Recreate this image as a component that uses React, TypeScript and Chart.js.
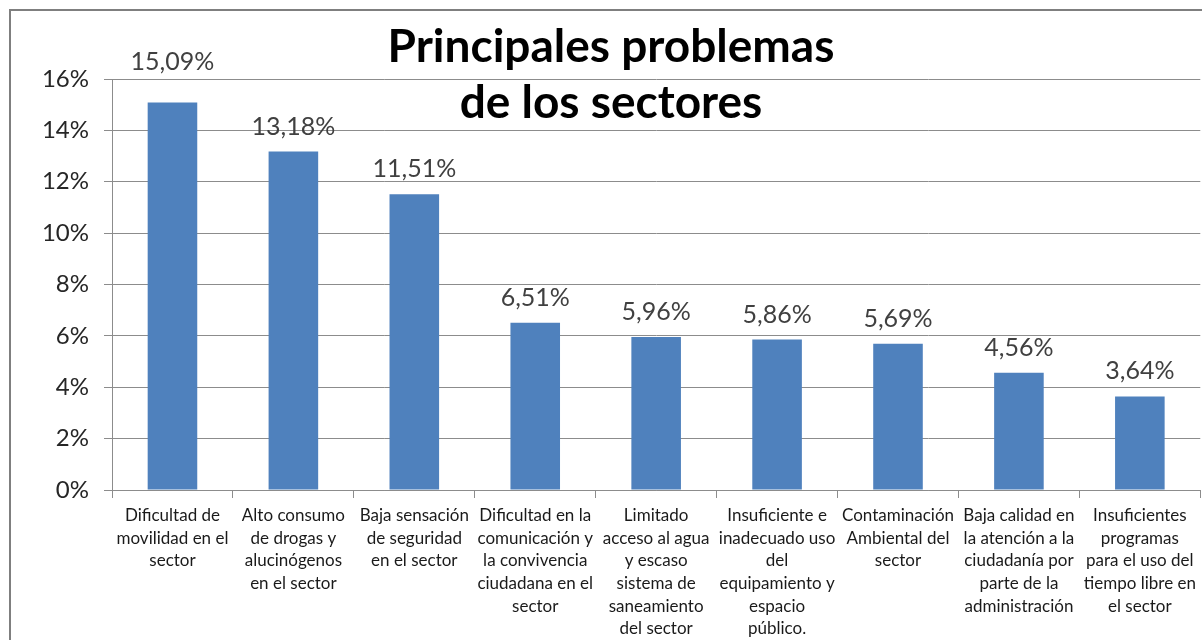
import React, { useEffect, useRef } from "react";
import { Chart, registerables } from "chart.js";

Chart.register(...registerables);

const categories: string[][] = [
  ["Dificultad de", "movilidad en el", "sector"],
  ["Alto consumo", "de drogas y", "alucinógenos", "en el sector"],
  ["Baja sensación", "de seguridad", "en el sector"],
  ["Dificultad en la", "comunicación y", "la convivencia", "ciudadana en el", "sector"],
  ["Limitado", "acceso al agua", "y escaso", "sistema de", "saneamiento", "del sector"],
  ["Insuficiente e", "inadecuado uso", "del", "equipamiento y", "espacio", "público."],
  ["Contaminación", "Ambiental del", "sector"],
  ["Baja calidad en", "la atención a la", "ciudadanía por", "parte de la", "administración"],
  ["Insuficientes", "programas", "para el uso del", "tiempo libre en", "el sector"],
];

const values: number[] = [15.09, 13.18, 11.51, 6.51, 5.96, 5.86, 5.69, 4.56, 3.64];

const titleLines: string[] = ["Principales problemas", "de los sectores"];

const yTicks: number[] = [0, 2, 4, 6, 8, 10, 12, 14, 16];

// style: how far each value label sits above its bar (px)
const labelLift: number[] = [40, 25, 25, 25, 25, 25, 25, 25, 26];

const FONT = "Lato, 'Open Sans', sans-serif";

const fmt = (v: number) => v.toFixed(2).replace(".", ",") + "%";

export default function App() {
  const ref = useRef<HTMLCanvasElement | null>(null);

  useEffect(() => {
    if (!ref.current) return;

    const frame = {
      id: "frame",
      beforeDraw(chart: any) {
        const ctx = chart.ctx;
        ctx.save();
        ctx.fillStyle = "#ffffff";
        ctx.fillRect(0, 0, chart.width, chart.height);
        ctx.strokeStyle = "#7f7f7f";
        ctx.lineWidth = 2;
        ctx.strokeRect(10, 10, chart.width + 20, chart.height + 20);
        ctx.restore();
      },
    };

    const labels = {
      id: "valueLabels",
      afterDatasetsDraw(chart: any) {
        const ctx = chart.ctx;
        const meta = chart.getDatasetMeta(0);
        ctx.save();
        ctx.font = `25px ${FONT}`;
        ctx.fillStyle = "#404040";
        ctx.textAlign = "center";
        ctx.textBaseline = "middle";
        meta.data.forEach((bar: any, i: number) => {
          ctx.fillText(fmt(values[i]), bar.x, bar.y - labelLift[i]);
        });
        ctx.restore();
      },
    };

    const title = {
      id: "bigTitle",
      afterDraw(chart: any) {
        const ctx = chart.ctx;
        ctx.save();
        ctx.font = `bold 46px ${FONT}`;
        ctx.fillStyle = "#000000";
        ctx.textAlign = "center";
        ctx.textBaseline = "middle";
        const cx = chart.width / 2 + 10;
        titleLines.forEach((t, i) => ctx.fillText(t, cx, 47 + i * 56));
        ctx.restore();
      },
    };

    const chart = new Chart(ref.current, {
      type: "bar",
      data: {
        labels: categories,
        datasets: [
          {
            data: values,
            backgroundColor: "#4f81bd",
            borderWidth: 0,
            categoryPercentage: 1,
            barPercentage: 0.41,
          },
        ],
      },
      options: {
        responsive: false,
        animation: false,
        layout: { padding: { top: 79, right: 1, left: 0, bottom: 0 } },
        plugins: {
          legend: { display: false },
          tooltip: { enabled: false },
          title: { display: false },
        },
        scales: {
          x: {
            grid: {
              display: true,
              drawOnChartArea: false,
              drawTicks: true,
              tickLength: 8,
              color: "#8c8c8c",
              offset: true,
            },
            border: { color: "#8c8c8c", width: 1 },
            ticks: {
              autoSkip: false,
              maxRotation: 0,
              minRotation: 0,
              font: { family: FONT, size: 17, lineHeight: 1.335 },
              color: "#1a1a1a",
              padding: 6,
            },
            afterFit(scale: any) {
              scale.height = 150;
            },
          },
          y: {
            min: 0,
            max: 16,
            afterBuildTicks(scale: any) {
              scale.ticks = yTicks.map((v) => ({ value: v }));
            },
            grid: {
              color: "#8c8c8c",
              tickLength: 8,
            },
            border: { color: "#8c8c8c", width: 1 },
            ticks: {
              callback: (v: any) => v + "%",
              font: { family: FONT, size: 24 },
              color: "#262626",
              padding: 15,
            },
            afterFit(scale: any) {
              scale.width = 112;
            },
          },
        },
      },
      plugins: [frame, labels, title],
    });

    return () => chart.destroy();
  }, []);

  return (
    <div style={{ position: "fixed", left: 0, top: 0, width: 1202, height: 640 }}>
      <canvas ref={ref} width={1202} height={640} style={{ width: 1202, height: 640 }} />
    </div>
  );
}
